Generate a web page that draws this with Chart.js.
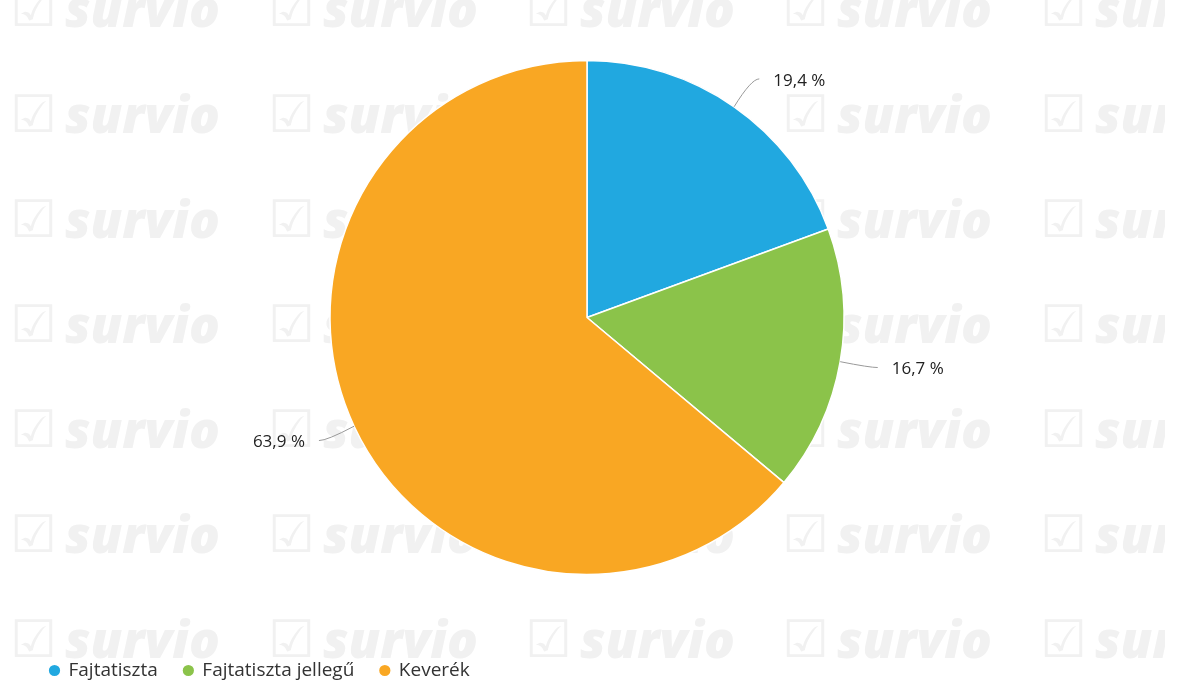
<!DOCTYPE html>
<html>
<head>
<meta charset="utf-8">
<script src="https://cdn.jsdelivr.net/npm/chart.js@4"></script>
<style>
    html, body { margin: 0; padding: 0; background: #fff; }
    #keret { width: 1179px; height: 682px; overflow: hidden; position: relative; }
</style>
</head>
<body>
<div id="keret">
    <canvas id="grafika" width="1179" height="690"></canvas>
</div>
<script>
var kategoriak = ["Fajtatiszta", "Fajtatiszta jellegű", "Keverék"];
var ertekek = [19.4, 16.7, 63.9];
var szinek = ["#21a8e0", "#8bc34a", "#f9a723"];

// halvany survio vizjel a hatterben
var vizjel = {
    id: "vizjel",
    beforeDraw: function(chart) {
        var ctx = chart.ctx;
        var oszlopok = [10, 268, 525, 782, 1040];
        var sorok = [12, 118, 223, 328, 433, 538, 643];
        ctx.save();
        ctx.beginPath();
        ctx.rect(0, 0, 1165, chart.height);
        ctx.clip();
        ctx.fillStyle = "#f1f1f1";
        ctx.textBaseline = "middle";
        for (var i = 0; i < oszlopok.length; i++) {
            for (var j = 0; j < sorok.length; j++) {
                ctx.font = "bold 52px 'DejaVu Sans'";
                ctx.fillText("☑", oszlopok[i], sorok[j]);
                ctx.font = "italic 800 51px 'Open Sans'";
                ctx.fillText("survio", oszlopok[i] + 55, sorok[j]);
            }
        }
        ctx.restore();
    }
};

// szazalekos cimkek osszekoto vonallal
var cimkek = {
    id: "cimkek",
    afterDatasetsDraw: function(chart) {
        var ctx = chart.ctx;
        var ivek = chart.getDatasetMeta(0).data;
        ctx.save();
        ctx.font = "17px 'Open Sans'";
        ctx.textBaseline = "middle";
        for (var i = 0; i < ivek.length; i++) {
            var iv = ivek[i];
            var szog = (iv.startAngle + iv.endAngle) / 2;
            var cx = iv.x, cy = iv.y, r = iv.outerRadius;
            var oldal = Math.cos(szog) >= 0 ? 1 : -1;
            var x0 = cx + Math.cos(szog) * r;
            var y0 = cy + Math.sin(szog) * r;
            var xk = cx + Math.cos(szog) * (r + 30);
            var yk = cy + Math.sin(szog) * (r + 34);
            var xv = xk + oldal * 8;
            ctx.strokeStyle = "#999";
            ctx.lineWidth = 1;
            ctx.beginPath();
            ctx.moveTo(x0, y0);
            ctx.quadraticCurveTo(xk, yk, xv, yk);
            ctx.stroke();
            ctx.fillStyle = "#222";
            ctx.textAlign = oldal > 0 ? "left" : "right";
            var szoveg = ertekek[i].toFixed(1).replace(".", ",") + " %";
            ctx.fillText(szoveg, xv + oldal * 14, yk + 2);
        }
        ctx.restore();
    }
};

var ctx = document.getElementById("grafika").getContext("2d");
var grafikon = new Chart(ctx, {
    type: "pie",
    data: {
        labels: kategoriak,
        datasets: [{
            data: ertekek,
            backgroundColor: szinek,
            borderColor: "#fff",
            borderWidth: 1.5
        }]
    },
    options: {
        responsive: false,
        animation: false,
        devicePixelRatio: 1,
        radius: 257,
        layout: { padding: { left: 24, right: 29, top: -2, bottom: 0 } },
        plugins: {
            tooltip: { enabled: false },
            legend: {
                position: "bottom",
                align: "start",
                labels: {
                    usePointStyle: true,
                    pointStyle: "circle",
                    boxWidth: 9,
                    boxHeight: 9,
                    padding: 26,
                    color: "#333",
                    font: { family: "'Open Sans'", size: 19 }
                }
            }
        }
    },
    plugins: [vizjel, cimkek]
});
</script>
</body>
</html>
